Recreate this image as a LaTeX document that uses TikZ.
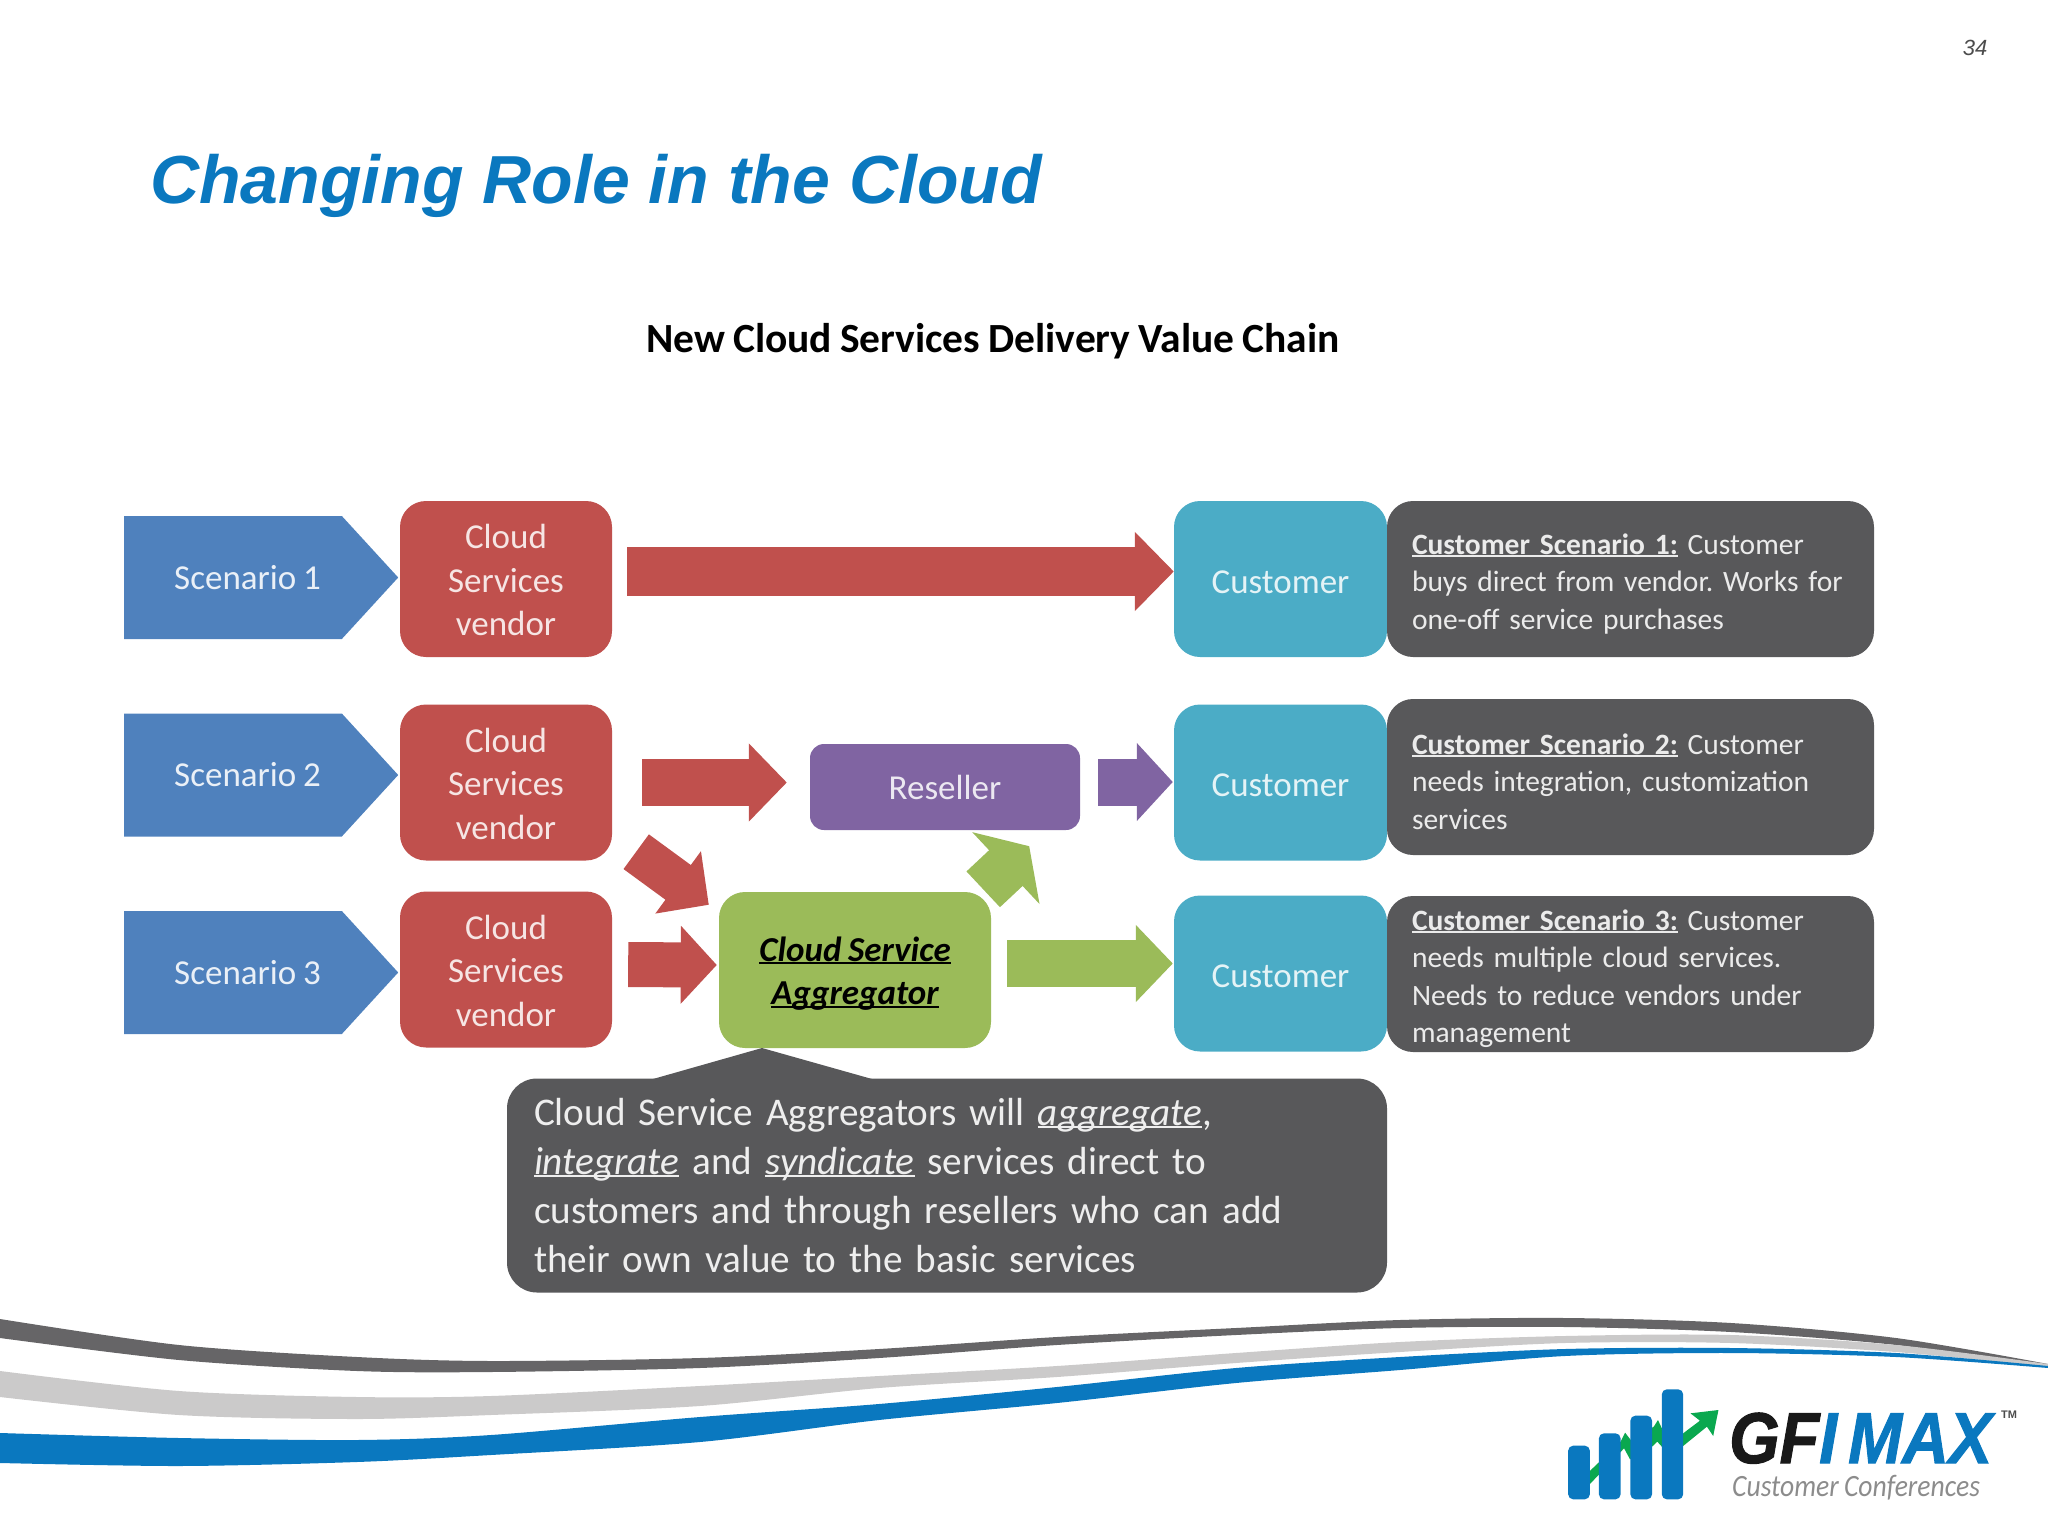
\documentclass[tikz,border=0pt]{standalone}
\usepackage{fontspec}
\usepackage{graphicx}
\usetikzlibrary{arrows.meta,calc,shapes.symbols}
\setmainfont[WordSpace=0.85]{Carlito}
\newfontfamily\arialfont{Liberation Sans}
\newfontfamily\gfifont[FakeBold=1.5]{Liberation Sans}
\definecolor{gfiblue}{HTML}{0A78BF}
\definecolor{gfigreen}{HTML}{0AA84F}
\definecolor{scenblue}{HTML}{4F81BD}
\definecolor{vendred}{HTML}{C0504D}
\definecolor{custteal}{HTML}{4BACC6}
\definecolor{resviolet}{HTML}{8064A2}
\definecolor{aggreen}{HTML}{9BBB59}
\definecolor{notegrey}{HTML}{58585A}
\definecolor{swdark}{HTML}{666567}
\definecolor{swgrey}{HTML}{CBCACA}
% underline that runs through the descenders
\newsavebox{\ulnbox}
\newcommand{\uln}[1]{\sbox{\ulnbox}{#1}\leavevmode\rlap{\rule[-3pt]{\wd\ulnbox}{2pt}}\usebox{\ulnbox}}
\newcommand{\bigfont}{\fontsize{35}{43.5}\selectfont}
\newcommand{\notefont}{\fontsize{29.5}{37.4}\selectfont}
\begin{document}
\frenchspacing
\begin{tikzpicture}[x=1pt,y=-1pt,
    scen/.style={signal, signal to=east, signal pointer angle=95, fill=scenblue, draw=none, text=white!88!scenblue,
        minimum width=274pt, minimum height=123pt, inner sep=0pt, font=\bigfont, anchor=west},
    box/.style={rectangle, rounded corners=26pt, draw=none, inner sep=0pt, align=center, font=\bigfont},
    vendor/.style={box, fill=vendred, text=white!85!vendred, minimum width=212pt, minimum height=156pt},
    customer/.style={box, fill=custteal, text=white!85!custteal, minimum width=213pt, minimum height=156pt, text height=29pt},
    note/.style={rectangle, rounded corners=26pt, fill=notegrey, text=white!88!notegrey, minimum width=487pt, minimum height=156pt,
        inner xsep=25pt, inner ysep=0pt, text width=437pt, align=left, font=\notefont},
    block/.style n args={3}{line width=#1, arrows={-{Triangle[length=#2,width=#3]}}},
]
    \useasboundingbox (0,0) rectangle (2048,1536);

    % swooshes
    \fill[swdark] plot[smooth] coordinates {(0,1319) (179,1345) (357,1357) (491,1361) (700,1358) (879,1349) (1057,1337) (1236,1328) (1400,1320) (1565,1318) (1731,1323) (1896,1338) (2048,1364)}
        -- plot[smooth] coordinates {(2048,1367) (1896,1345) (1731,1332) (1565,1327) (1400,1328) (1236,1335) (1057,1345) (879,1358) (700,1368) (491,1372) (357,1371) (179,1360) (0,1338)} -- cycle;
    \fill[swgrey] plot[smooth] coordinates {(0,1371) (179,1391) (357,1397) (491,1396) (700,1386) (879,1376) (1057,1366) (1236,1353) (1400,1342) (1565,1336) (1731,1335) (1896,1345) (2048,1364)}
        -- plot[smooth] coordinates {(2048,1367) (1896,1352) (1731,1343) (1565,1343) (1400,1352) (1236,1363) (1057,1377) (879,1388) (700,1406) (491,1415) (357,1419) (179,1415) (0,1397)} -- cycle;
    \fill[gfiblue] plot[smooth] coordinates {(0,1433) (179,1438) (357,1440) (491,1435) (700,1417) (879,1404) (1057,1387) (1236,1368) (1400,1357) (1565,1349) (1731,1348) (1896,1353) (2048,1366)}
        -- plot[smooth] coordinates {(2048,1368) (1896,1357) (1731,1353) (1565,1356) (1400,1370) (1236,1383) (1057,1403) (879,1420) (700,1442) (491,1455) (357,1462) (179,1466) (0,1463)} -- cycle;

    % titles
    \node[anchor=base west, inner sep=0pt, text=gfiblue, font={\arialfont\fontsize{68}{68}\selectfont\bfseries\itshape}] (title) at (150,203) {Changing Role in the Cloud};
    \node[anchor=center, inner sep=0pt, text=black!70, font={\arialfont\fontsize{22}{22}\selectfont\itshape}] (page) at (1975,48) {34};
    \node[anchor=center, inner sep=0pt, font={\fontsize{41.5}{41.5}\selectfont\bfseries}] (sub) at (993,341) {New Cloud Services Delivery Value Chain};

    % scenarios
    \node[scen] (s1) at (124,577.5) {\hspace*{29pt}Scenario 1};
    \node[scen] (s2) at (124,775) {\hspace*{29pt}Scenario 2};
    \node[scen] (s3) at (124,972.5) {\hspace*{29pt}Scenario 3};

    % vendors
    \node[vendor] (v1) at (506,579) {\rule{0pt}{27pt}Cloud\\Services\\vendor};
    \node[vendor] (v2) at (506,782.5) {\rule{0pt}{27pt}Cloud\\Services\\vendor};
    \node[vendor] (v3) at (506,969.5) {\rule{0pt}{27pt}Cloud\\Services\\vendor};

    % customers
    \node[customer] (c1) at (1280.5,579) {Customer};
    \node[customer] (c2) at (1280.5,782.5) {Customer};
    \node[customer] (c3) at (1280.5,973.5) {Customer};

    % notes
    \node[note] (n1) at (1630.5,579) {\rule{0pt}{30pt}\textbf{\uln{Customer Scenario 1:}} Customer\\buys direct from vendor. Works for\\one-off service purchases};
    \node[note] (n2) at (1630.5,777) {\rule{0pt}{30pt}\textbf{\uln{Customer Scenario 2:}} Customer\\needs integration, customization\\services};
    \node[note] (n3) at (1630.5,974) {\rule{0pt}{30pt}\textbf{\uln{Customer Scenario 3:}} Customer\\needs multiple cloud services.\\Needs to reduce vendors under\\management};

    % middle boxes
    \node[box, rounded corners=14pt, fill=resviolet, text=white!85!resviolet, minimum width=270pt, minimum height=86pt] (res) at (945,787) {Reseller};
    \node[box, fill=aggreen, text=black, minimum width=272pt, minimum height=156pt, font={\bigfont\bfseries\itshape}] (agg) at (855,970) {\rule{0pt}{32pt}\uln{Cloud Service}\\\uln{Aggregator}};

    % block arrows
    \draw[block={49pt}{39pt}{77pt}, draw=vendred, fill=vendred, shorten <=15pt] ([yshift=7.5pt]v1.east) -- ([yshift=7.5pt]c1.west);
    \draw[block={47pt}{38pt}{76pt}, draw=vendred, fill=vendred, shorten <=30pt, shorten >=23pt] (v2.east) -- (v2.east -| res.west);
    \draw[block={47pt}{36pt}{76pt}, draw=resviolet, fill=resviolet, shorten <=18pt, shorten >=1pt] ([yshift=5pt]res.east) -- ([yshift=5pt]res.east -| c2.west);
    \draw[block={45pt}{36pt}{76pt}, draw=vendred, fill=vendred, shorten <=16pt, shorten >=2pt] ([yshift=5pt]v3.east) -- ([yshift=5pt]agg.west);
    \draw[block={47pt}{37pt}{75pt}, draw=aggreen, fill=aggreen, shorten <=16pt, shorten >=1pt] ([yshift=6.5pt]agg.east) -- ([yshift=6.5pt]agg.east -| c3.west);
    \draw[block={43pt}{38pt}{75pt}, draw=vendred, fill=vendred] ($(v2.south east)+(24,-9)$) -- ($(agg.north west)+(-10,13)$);
    \draw[block={49pt}{32pt}{97pt}, draw=aggreen, fill=aggreen] ($(agg.north east)+(-8,-2.5)$) -- ($(res.south east)+(-51,16)$);

    % callout
    \fill[notegrey] (653,1079) -- (762,1048) -- (872,1079) -- cycle;
    \node[rectangle, rounded corners=30pt, fill=notegrey, text=white!90!notegrey, minimum width=880pt, minimum height=214pt,
        inner xsep=27pt, inner ysep=0pt, text width=826pt, align=left, font={\fontsize{39.2}{49}\selectfont}] (call) at (947,1185.5)
        {Cloud Service Aggregators will \textit{\uln{aggregate}},\\\textit{\uln{integrate}} and \textit{\uln{syndicate}} services direct to\\customers and through resellers who can add\\their own value to the basic services};

    % logo
    \begin{scope}[shift={(1500,1300)},x=0.3495pt,y=-0.3333pt]
        \fill[gfigreen] (250,520) -- (345,425) -- (358,398) -- (374,420) -- (440,380) -- (452,360) -- (463,385)
            -- (524,400) -- (572,362) -- (545,340) -- (625,330) -- (610,408) -- (592,380) -- (524,438)
            -- (463,440) -- (450,425) -- (435,440) -- (372,478) -- (355,445) -- (250,560) -- cycle;
        \fill[gfiblue, rounded corners=5pt] (195,437) rectangle (257,598);
        \fill[gfiblue, rounded corners=5pt] (283,400) rectangle (345,598);
        \fill[gfiblue, rounded corners=5pt] (373,347) rectangle (435,598);
        \fill[gfiblue, rounded corners=5pt] (463,268) rectangle (524,598);
    \end{scope}
    \node[anchor=base west, inner sep=0pt, text depth=0pt, font={\gfifont\fontsize{72}{72}\selectfont\bfseries\itshape}] (gfi) at (1729,1463)
        {\scalebox{.9}[1]{\textcolor{black!90}{GF}\textcolor{gfiblue}{I\kern.17em MAX}}};
    \node[anchor=center, inner sep=0pt, text=black!70, font={\arialfont\fontsize{11}{11}\selectfont\bfseries}] (tm) at (2009,1415) {TM};
    \node[anchor=base west, inner sep=0pt, text=black!45, font={\fontsize{31}{31}\selectfont\itshape}] (conf) at (1732,1496) {\scalebox{.89}[1]{Customer Conferences}};
\end{tikzpicture}
\end{document}
